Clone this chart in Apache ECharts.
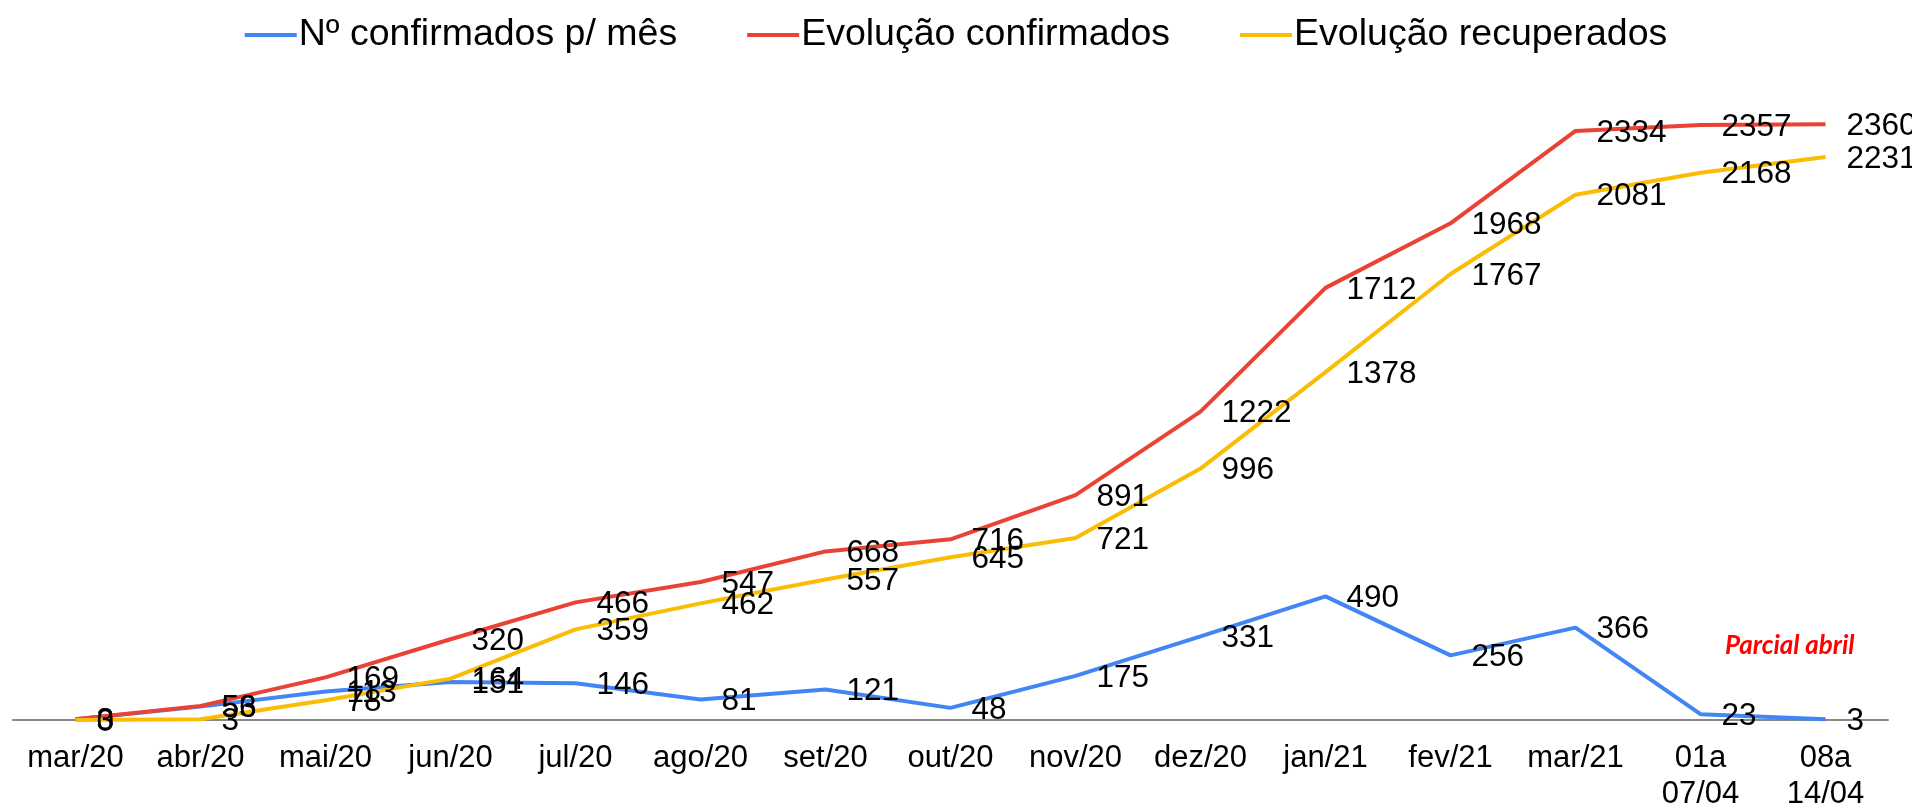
<!DOCTYPE html>
<html>
<head>
<meta charset="utf-8">
<title>Evolução casos</title>
<script src="https://cdn.jsdelivr.net/npm/echarts@6/dist/echarts.min.js"></script>
<style>
  html, body { margin: 0; padding: 0; background: #fff; }
  #chart { width: 1912px; height: 806px; }
</style>
</head>
<body>
<div id="chart"></div>
<script>
const categories = ["mar/20", "abr/20", "mai/20", "jun/20", "jul/20", "ago/20", "set/20", "out/20",
  "nov/20", "dez/20", "jan/21", "fev/21", "mar/21", "01a\n07/04", "08a\n14/04"];
const confirmadosMes = [3, 53, 113, 151, 146, 81, 121, 48, 175, 331, 490, 256, 366, 23, 3];
const evolucaoConfirmados = [3, 56, 169, 320, 466, 547, 668, 716, 891, 1222, 1712, 1968, 2334, 2357, 2360];
const evolucaoRecuperados = [0, 3, 78, 164, 359, 462, 557, 645, 721, 996, 1378, 1767, 2081, 2168, 2231];

const font = "'Liberation Sans', Arial, sans-serif";

const chart = echarts.init(document.getElementById("chart"));

const makeSeries = (name, data, color) => {
  return {
    name: name,
    type: "line",
    data: data,
    // tiny symbol so the value labels still get drawn
    symbol: "circle",
    symbolSize: 0.01,
    lineStyle: { width: 4, color: color },
    itemStyle: { color: color },
    label: {
      show: true,
      position: "right",
      distance: 21,
      offset: [0, 2],
      color: "#000",
      fontFamily: font,
      fontSize: 31.5,
    },
  };
};

const option = {
  animation: false,
  color: ["#4285F4", "#EA4335", "#FBBC04"],
  legend: {
    top: 11,
    left: "center",
    icon: "rect",
    itemWidth: 52,
    itemHeight: 4,
    itemGap: 70,
    textStyle: { fontFamily: font, fontSize: 37.5, color: "#000", padding: [0, 0, 0, -3] },
  },
  grid: {
    left: 13,
    right: 24,
    top: 89,
    bottom: 86,
    containLabel: false,
    outerBoundsMode: "none",
  },
  xAxis: {
    type: "category",
    data: categories,
    boundaryGap: true,
    axisLine: { lineStyle: { color: "#888", width: 2 } },
    axisTick: { show: false },
    axisLabel: {
      color: "#000",
      fontFamily: font,
      fontSize: 31,
      lineHeight: 36,
      margin: 20,
      interval: 0,
    },
  },
  yAxis: {
    type: "value",
    min: 0,
    max: 2500,
    show: false,
    splitLine: { show: false },
  },
  graphic: [
    {
      type: "text",
      left: 1725,
      top: 633,
      style: {
        text: "Parcial abril",
        fill: "#FF0000",
        fontFamily: "Lato, 'Open Sans', sans-serif",
        fontStyle: "italic",
        fontWeight: "bold",
        fontSize: 26,
      },
    },
  ],
  series: [
    makeSeries("Nº confirmados p/ mês", confirmadosMes, "#4285F4"),
    makeSeries("Evolução confirmados", evolucaoConfirmados, "#EA4335"),
    makeSeries("Evolução recuperados", evolucaoRecuperados, "#FBBC04"),
  ],
};

chart.setOption(option);
</script>
</body>
</html>
